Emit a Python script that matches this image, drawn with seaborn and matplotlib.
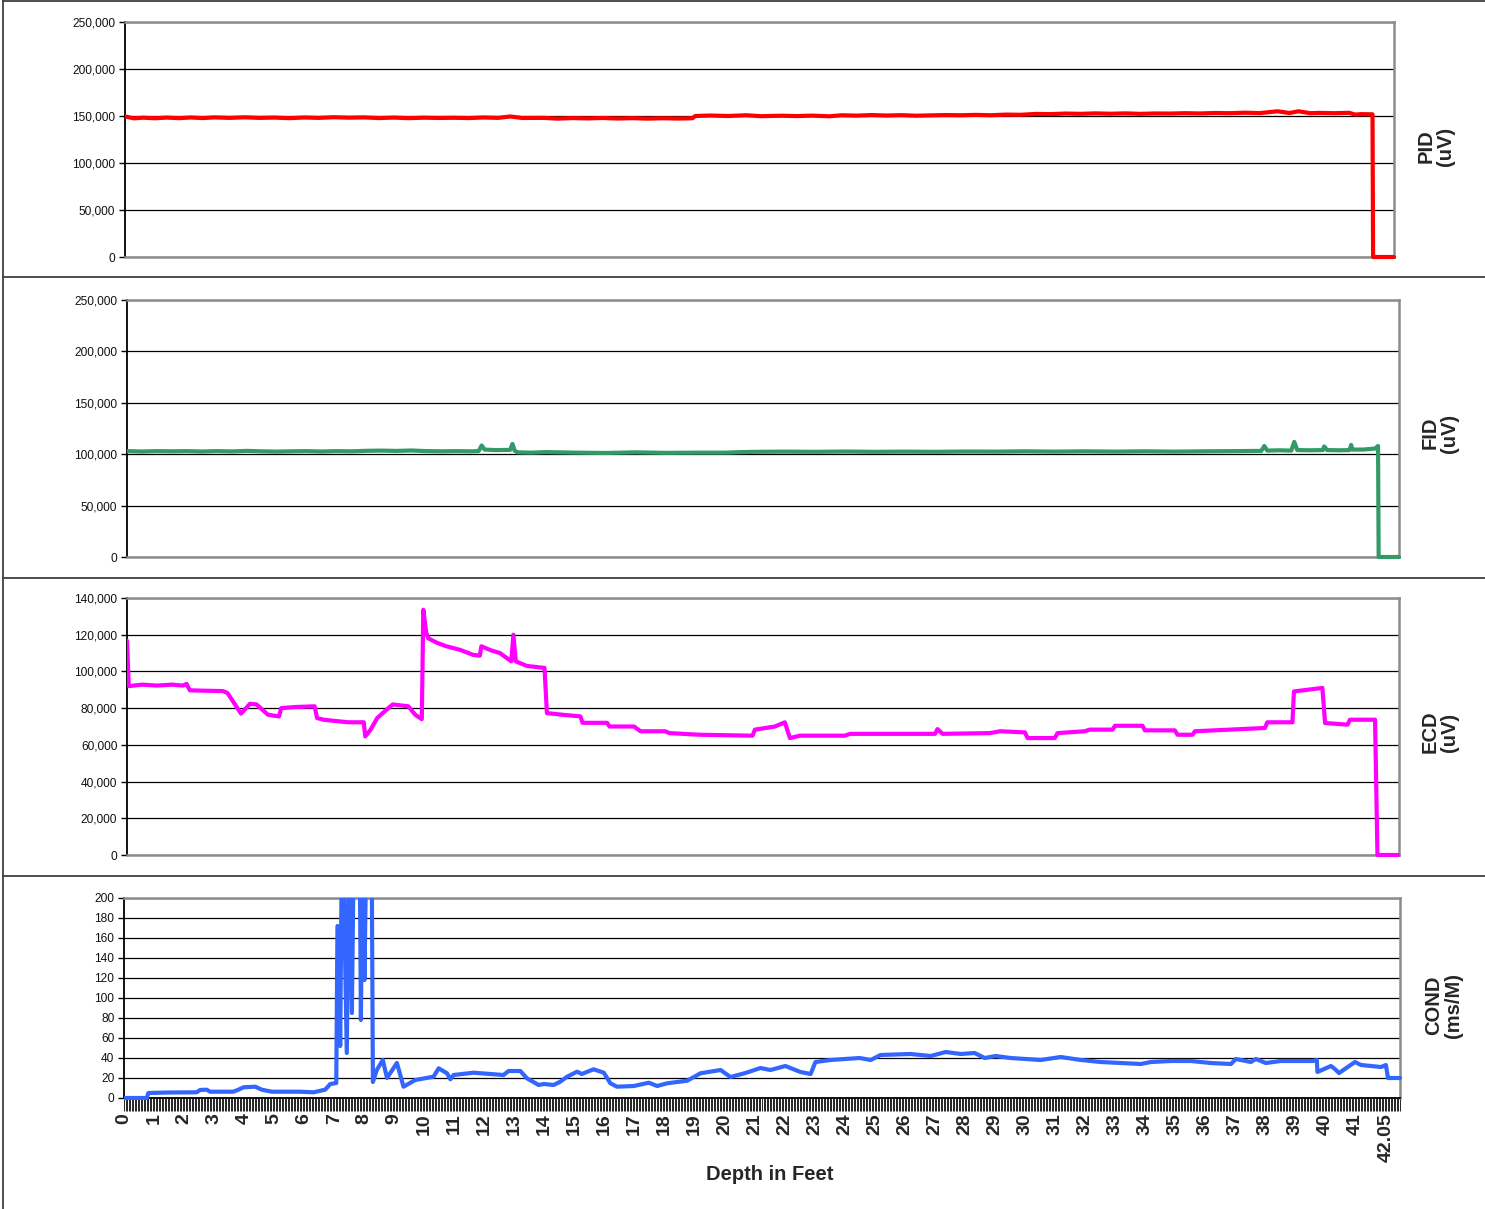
import matplotlib
matplotlib.use("Agg")
import matplotlib.pyplot as plt
from matplotlib.ticker import MultipleLocator, FixedLocator, FuncFormatter
from matplotlib.lines import Line2D
from matplotlib.patches import Rectangle
import pandas as pd
import seaborn as sns

# ---- data (depth in feet, detector readings) ----
PID_DEPTH = [0, 0.3, 0.6, 1.0, 1.4, 1.8, 2.2, 2.6, 3.0, 3.5,
             4.0, 4.5, 5.0, 5.5, 6.0, 6.5, 7.0, 7.5, 8.0, 8.5,
             9.0, 9.5, 10.0, 10.5, 11.0, 11.5, 12.0, 12.5, 12.9, 13.3,
             14.0, 14.5, 15.0, 15.5, 16.0, 16.5, 17.0, 17.5, 18.0, 18.5,
             19.0, 19.1, 19.6, 20.2, 20.8, 21.3, 22.0, 22.5, 23.0, 23.6,
             24.0, 24.5, 25.0, 25.5, 26.0, 26.5, 27.0, 27.5, 28.0, 28.5,
             29.0, 29.5, 30.0, 30.5, 31.0, 31.5, 32.0, 32.5, 33.0, 33.5,
             34.0, 34.5, 35.0, 35.5, 36.0, 36.5, 37.0, 37.5, 38.0, 38.6,
             39.0, 39.3, 39.7, 40.0, 40.5, 41.0, 41.2, 41.4, 41.78, 41.8,
             42.5]
PID_VALUE = [149500, 147500, 148200, 147600, 148300, 147700, 148400, 147800, 148500, 148000,
             148600, 148000, 148300, 147700, 148400, 148000, 148700, 148200, 148500, 147800,
             148300, 147700, 148200, 147900, 148100, 147800, 148400, 148000, 149500, 147900,
             148000, 147200, 147800, 147400, 147900, 147300, 147700, 147200, 147600, 147300,
             147600, 150000, 150500, 150000, 150800, 149800, 150300, 149900, 150400, 149700,
             150800, 150400, 151000, 150500, 150900, 150300, 150700, 151000, 150800, 151200,
             150800, 151500, 151300, 152200, 152000, 152600, 152300, 152800, 152400, 152800,
             152300, 152700, 152600, 153000, 152700, 153200, 153000, 153500, 153100, 155000,
             153200, 155000, 153000, 153300, 153000, 153400, 151500, 152000, 151800, 0,
             0]

FID_DEPTH = [0, 0.5, 1.0, 1.5, 2.0, 2.5, 3.0, 3.5, 4.0, 4.5,
             5.0, 5.5, 6.0, 6.5, 7.0, 7.5, 8.0, 8.5, 9.0, 9.5,
             10.0, 10.5, 11.0, 11.5, 11.75, 11.85, 11.95, 12.3, 12.8, 12.88,
             12.95, 13.05, 13.5, 14.0, 15.0, 16.0, 17.0, 18.0, 19.0, 20.0,
             20.5, 21.0, 22.0, 23.0, 24.0, 25.0, 26.0, 27.0, 28.0, 29.0,
             30.0, 31.0, 32.0, 33.0, 34.0, 35.0, 36.0, 37.0, 37.9, 38.0,
             38.1, 38.5, 38.9, 39.0, 39.1, 39.5, 39.95, 40.0, 40.1, 40.5,
             40.85, 40.9, 40.95, 41.3, 41.7, 41.8, 41.82, 42.5]
FID_VALUE = [103000, 102600, 103000, 102800, 103000, 102600, 103000, 102700, 103200, 102800,
             102500, 102800, 103000, 102600, 103000, 102800, 103300, 103500, 103200, 103600,
             103000, 102800, 103000, 102800, 103000, 108500, 104500, 104000, 104200, 110000,
             103500, 101800, 101500, 102000, 101500, 101200, 101800, 101300, 101500, 101500,
             102000, 102300, 102500, 102300, 102600, 102300, 102500, 102300, 102600, 102500,
             102800, 102500, 102800, 102500, 102800, 102500, 102800, 103000, 103200, 108000,
             103500, 103800, 103500, 112000, 104000, 103800, 104000, 107500, 104000, 103800,
             104000, 109000, 104500, 104500, 105500, 108000, 0, 0]

ECD_DEPTH = [0, 0.06, 0.5, 1.0, 1.5, 1.87, 1.99, 2.10, 2.6, 3.21,
             3.36, 3.81, 4.11, 4.33, 4.71, 5.08, 5.15, 5.60, 6.27, 6.35,
             6.57, 7.09, 7.39, 7.91, 7.96, 8.14, 8.36, 8.73, 8.88, 9.40,
             9.63, 9.85, 9.90, 10.0, 10.07, 10.37, 10.67, 11.12, 11.57, 11.79,
             11.84, 12.16, 12.46, 12.84, 12.91, 12.99, 13.36, 13.95, 14.03, 14.55,
             15.15, 15.22, 16.04, 16.12, 16.94, 17.16, 17.98, 18.13, 19.14, 20.9,
             20.98, 21.65, 21.98, 22.15, 22.48, 23.99, 24.16, 27.0, 27.08, 27.25,
             28.83, 29.17, 30.0, 30.09, 31.0, 31.09, 32.0, 32.17, 32.93, 33.01,
             33.93, 34.01, 35.01, 35.1, 35.6, 35.68, 36.85, 38.02, 38.1, 38.94,
             38.99, 39.44, 39.94, 40.03, 40.78, 40.86, 41.7, 41.78, 42.47]
ECD_VALUE = [116700, 92000, 92800, 92300, 92800, 92300, 93200, 89700, 89500, 89300,
             88200, 77000, 82400, 82000, 76400, 75500, 80000, 80600, 81000, 74600,
             73700, 72800, 72300, 72300, 64600, 68300, 74600, 80000, 82000, 81000,
             76400, 74000, 133600, 121000, 118000, 115500, 113700, 111800, 109000, 108600,
             113700, 111500, 110000, 105500, 120000, 105500, 103000, 101900, 77300, 76400,
             75500, 72000, 72000, 70000, 70000, 67400, 67400, 66400, 65500, 65000,
             68300, 70000, 72300, 63700, 65000, 65000, 66000, 66000, 68600, 66000,
             66400, 67400, 66800, 63700, 63700, 66400, 67400, 68300, 68300, 70400,
             70400, 67900, 67900, 65500, 65500, 67400, 68300, 69200, 72300, 72300,
             89100, 90000, 91000, 71900, 71000, 73700, 73700, 0, 0]

# readings above 200 run off the top of the chart
COND_DEPTH = [0, 0.76, 0.81, 1.5, 2.42, 2.53, 2.75, 2.87, 3.64, 3.81,
              3.98, 4.37, 4.59, 4.92, 5.87, 6.31, 6.70, 6.87, 7.07, 7.11,
              7.16, 7.20, 7.27, 7.42, 7.51, 7.59, 7.67, 7.84, 7.89, 7.96,
              8.01, 8.09, 8.24, 8.29, 8.42, 8.62, 8.76, 9.09, 9.31, 9.70,
              10.31, 10.48, 10.76, 10.87, 10.98, 11.64, 12.64, 12.81, 13.2, 13.42,
              13.81, 13.98, 14.31, 14.53, 14.76, 15.09, 15.25, 15.64, 15.98, 16.2,
              16.42, 16.98, 17.48, 17.76, 18.09, 18.76, 19.2, 19.87, 20.2, 20.7,
              21.2, 21.53, 22.03, 22.53, 22.87, 23.03, 23.53, 24.5, 24.87, 25.2,
              26.2, 26.87, 27.37, 27.87, 28.33, 28.67, 29.03, 29.53, 30.53, 31.2,
              31.87, 32.53, 33.87, 34.2, 34.87, 35.53, 36.2, 36.87, 37.03, 37.53,
              37.7, 38.03, 38.53, 39.6, 39.73, 39.75, 40.2, 40.33, 40.47, 41.0,
              41.2, 41.87, 42.03, 42.10, 42.5]
COND_VALUE = [0, 0, 5, 5.5, 5.7, 8, 8.3, 6.3, 6.3, 8.3,
              10.7, 11.3, 8.3, 6.3, 6.3, 5.7, 8.3, 14, 15, 172,
              170, 52, 300, 45, 300, 85, 300, 300, 78, 300,
              118, 300, 300, 16, 28, 38, 20, 35, 11.3, 18,
              21.3, 29.7, 24.7, 18.7, 23, 25.3, 23, 27, 27, 19.7,
              13, 14, 13, 16.3, 21.3, 26.3, 24, 28.7, 25.3, 14.7,
              11.3, 12, 15.3, 12, 14.7, 17.3, 24.7, 28, 21, 25,
              30, 28, 32, 26, 24, 36, 38, 40, 38, 43,
              44, 42, 46, 44, 45, 40, 42, 40, 38, 41,
              38, 36, 34, 36, 37, 37, 35, 34, 39, 36,
              39, 35, 37, 37, 38, 26, 32, 29, 25, 36,
              33, 31, 33, 20, 20]

X_TICKS = list(range(0, 42)) + [42.05]
X_LABELS = [str(t) for t in range(0, 42)] + ["42.05"]
X_END = 42.5

W, H = 1485, 1209


def px_box(left, top, right, bottom):
    return [left / W, 1 - bottom / H, (right - left) / W, (bottom - top) / H]


def draw_panel(fig, box, depth, values, color, ymax, ystep, fmt, label, label_xy):
    ax = fig.add_axes(box)
    df = pd.DataFrame({"depth": depth, "value": values})
    sns.lineplot(data=df, x="depth", y="value", ax=ax, color=color,
                 linewidth=3.0, estimator=None, sort=False, zorder=5)
    ax.set_xlim(0, X_END)
    ax.set_ylim(0, ymax)
    ax.yaxis.set_major_locator(MultipleLocator(ystep))
    ax.yaxis.set_major_formatter(FuncFormatter(fmt))
    ax.grid(axis="y", color="black", linewidth=0.9)
    ax.grid(axis="x", visible=False)
    ax.set_xlabel("")
    ax.set_ylabel("")
    for side in ["top", "right", "bottom"]:
        ax.spines[side].set_color("#8c8c8c")
        ax.spines[side].set_linewidth(1.8)
    ax.spines["left"].set_color("black")
    ax.spines["left"].set_linewidth(1.3)
    ax.tick_params(axis="y", direction="out", length=4, width=1,
                   color="black", labelsize=8.6, labelcolor="#111111", pad=3, left=True)
    ax.tick_params(axis="x", bottom=False, labelbottom=False)
    # let the line show fully at 0 but cut it at the top edge
    clip = Rectangle((0, -0.05), 1.02, 1.05, transform=ax.transAxes,
                     facecolor="none", edgecolor="none")
    ax.add_patch(clip)
    for ln in ax.lines:
        ln.set_clip_path(clip)
    fig.text(label_xy[0] / W, 1 - label_xy[1] / H, label, rotation=90,
             ha="center", va="center", multialignment="center",
             fontsize=14.5, fontweight="bold", linespacing=1.05)
    return ax


sns.set_style("white")
plt.rcParams["font.family"] = ["Liberation Sans", "DejaVu Sans"]

fig = plt.figure(figsize=(W / 100, H / 100), dpi=100)

thousands = lambda v, p: f"{v:,.0f}"
plain = lambda v, p: f"{v:.0f}"

draw_panel(fig, px_box(125, 22, 1394, 257), PID_DEPTH, PID_VALUE, "#ff0000",
           250000, 50000, thousands, "PID\n(uV)", (1436, 146))
draw_panel(fig, px_box(127, 300, 1399, 557), FID_DEPTH, FID_VALUE, "#339966",
           250000, 50000, thousands, "FID\n(uV)", (1440, 433))
draw_panel(fig, px_box(127, 598, 1399, 855), ECD_DEPTH, ECD_VALUE, "#ff00ff",
           140000, 20000, thousands, "ECD\n(uV)", (1440, 732))
ax4 = draw_panel(fig, px_box(124, 898, 1400, 1098), COND_DEPTH, COND_VALUE, "#3366ff",
                 200, 20, plain, "COND\n(ms/M)", (1444, 1005))

ax4.spines["bottom"].set_color("black")
ax4.spines["bottom"].set_linewidth(1.3)
ax4.xaxis.set_major_locator(FixedLocator(X_TICKS))
ax4.xaxis.set_minor_locator(MultipleLocator(0.05))
ax4.set_xticklabels(X_LABELS, rotation=90, fontweight="bold", fontsize=14)
ax4.tick_params(axis="x", which="both", bottom=True, labelbottom=True,
                direction="out", length=9, width=0.6, color="black", pad=2)
ax4.set_xlim(0, X_END)

fig.text(770 / W, 1 - 1175 / H, "Depth in Feet", ha="center", va="center",
         fontsize=14.5, fontweight="bold")

# chart frames
frame = dict(transform=fig.transFigure, color="#404040", linewidth=1.3)
fig.add_artist(Line2D([2.5 / W, 2.5 / W], [0, 1], **frame))
for y in [1, 277, 578, 876]:
    fig.add_artist(Line2D([2.5 / W, 1], [1 - y / H, 1 - y / H], **frame))

fig.savefig("out.png", dpi=100)
